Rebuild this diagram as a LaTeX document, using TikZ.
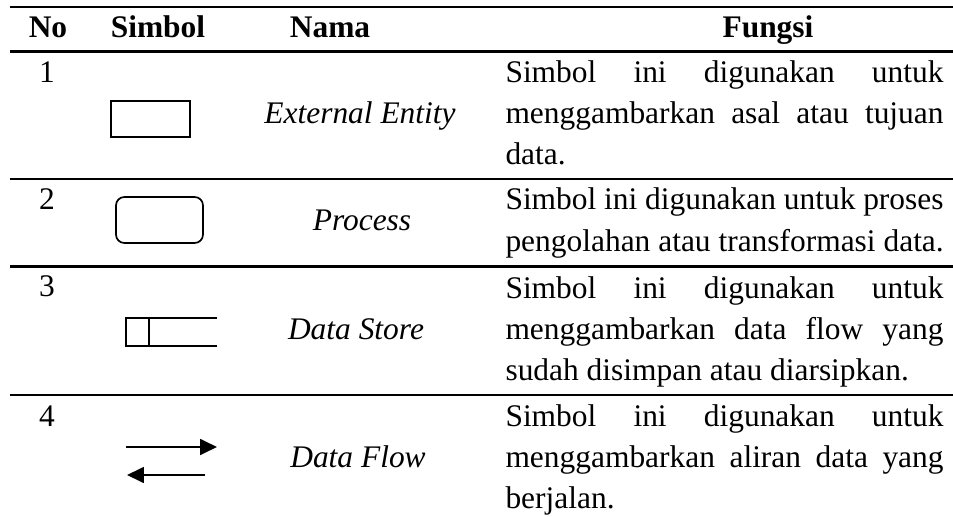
\documentclass[tikz,border=0pt]{standalone}
\usepackage{fontspec}
\setmainfont{Liberation Serif}
\usetikzlibrary{arrows.meta}
\begin{document}
\begin{tikzpicture}[x=0.3817pt,y=-0.3817pt,
  rulel/.style={line width=0.78pt},
  hdr/.style={font=\fontsize{12pt}{14pt}\selectfont\bfseries, anchor=base, inner sep=0pt},
  txt/.style={font=\fontsize{12pt}{14pt}\selectfont, anchor=base west, inner sep=0pt},
  num/.style={font=\fontsize{12pt}{14pt}\selectfont, anchor=base, inner sep=0pt},
  nama/.style={font=\fontsize{12pt}{14pt}\selectfont\itshape, anchor=base, inner sep=0pt},
  sym/.style={line width=0.65pt},
  symthin/.style={line width=0.55pt},
  flow/.style={line width=0.75pt, -{Triangle[length=6.4pt,width=6pt]}},
]
\newcommand{\jl}[1]{\makebox[167.2pt][s]{#1}}
\useasboundingbox (0,0) rectangle (953,517);

% rules
\draw[rulel] (10,7) -- (953,7);
\draw[rulel] (10,51.5) -- (953,51.5);
\draw[rulel] (10,179) -- (953,179);
\draw[rulel] (10,266.5) -- (953,266.5);
\draw[rulel] (10,395) -- (953,395);

% header
\node[hdr] (hNo) at (48,38) {No};
\node[hdr] (hSim) at (158,38) {Simbol};
\node[hdr] (hNama) at (330,38) {Nama};
\node[hdr] (hFungsi) at (768,38) {Fungsi};

% row 1
\node[num] (n1) at (47,83) {1};
\draw[sym] (111,101) rectangle (190,137);
\node[nama] (e1) at (360,124) {External Entity};
\node[txt] (f1a) at (505,83) {\jl{Simbol ini digunakan untuk}};
\node[txt] (f1b) at (505,124) {\jl{menggambarkan asal atau tujuan}};
\node[txt] (f1c) at (505,165) {data.};

% row 2
\node[num] (n2) at (47,210) {2};
\draw[sym, rounded corners=3.2pt] (116,197) rectangle (203,243);
\node[nama] (e2) at (362,231) {Process};
\node[txt] (f2a) at (505,210) {\jl{Simbol ini digunakan untuk proses}};
\node[txt] (f2b) at (505,251) {pengolahan atau transformasi data.};

% row 3
\node[num] (n3) at (47,296) {3};
\draw[symthin] (217,318) -- (126,318) -- (126,346) -- (217,346);
\draw[symthin] (149,318) -- (149,346);
\node[nama] (e3) at (356,339) {Data Store};
\node[txt] (f3a) at (505,298) {\jl{Simbol ini digunakan untuk}};
\node[txt] (f3b) at (505,339) {\jl{menggambarkan data flow yang}};
\node[txt] (f3c) at (505,380) {sudah disimpan atau diarsipkan.};

% row 4
\node[num] (n4) at (47,426) {4};
\coordinate (a1s) at (126,447);
\coordinate (a1e) at (217,447);
\coordinate (a2s) at (205,475);
\coordinate (a2e) at (127,475);
\draw[flow] (a1s) -- (a1e);
\draw[flow] (a2s) -- (a2e);
\node[nama] (e4) at (358,467) {Data Flow};
\node[txt] (f4a) at (505,426) {\jl{Simbol ini digunakan untuk}};
\node[txt] (f4b) at (505,467) {\jl{menggambarkan aliran data yang}};
\node[txt] (f4c) at (505,508) {berjalan.};
\end{tikzpicture}
\end{document}
